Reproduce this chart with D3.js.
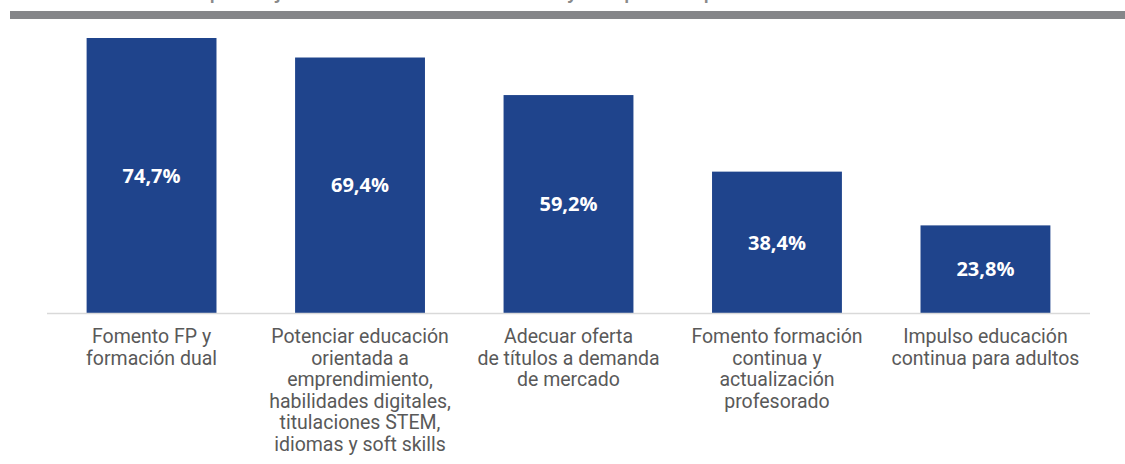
<!DOCTYPE html>
<html>
<head>
<meta charset="utf-8">
<script src="https://cdn.jsdelivr.net/npm/d3@7"></script>
<style>
	html, body { margin: 0; padding: 0; background: #fff; }
	svg { display: block; }
	.cat { font-family: Roboto, sans-serif; font-size: 19.5px; fill: #595959; }
	.val { font-family: "Open Sans", sans-serif; font-size: 20px; font-weight: 700; fill: #fff; }
</style>
</head>
<body>
<svg id="chart" width="1125" height="464"></svg>
<script>
const categories = [
	['Fomento FP y', 'formación dual'],
	['Potenciar educación', 'orientada a', 'emprendimiento,', 'habilidades digitales,', 'titulaciones STEM,', 'idiomas y soft skills'],
	['Adecuar oferta', 'de títulos a demanda', 'de mercado'],
	['Fomento formación', 'continua y', 'actualización', 'profesorado'],
	['Impulso educación', 'continua para adultos']
];
const values = [74.7, 69.4, 59.2, 38.4, 23.8];
const valueLabels = ['74,7%', '69,4%', '59,2%', '38,4%', '23,8%'];
const title = 'Medidas más relevantes para mejorar la conexión entre la formación y el empleo en España';

const svg = d3.select('#chart');

const left = 47, right = 1090, baseY = 313;

// title, mostly cut off at the top edge (as in the source image)
svg.append('text')
	.attr('x', 12)
	.attr('y', -1)
	.attr('font-family', 'Open Sans, sans-serif')
	.attr('font-size', 16)
	.attr('font-weight', 700)
	.attr('fill', '#8a8a8a')
	.text(title);

svg.append('rect')
	.attr('x', 10).attr('y', 11)
	.attr('width', 1115).attr('height', 8)
	.attr('fill', '#858689');

const x = d3.scaleBand()
	.domain(d3.range(values.length))
	.range([left, right])
	.paddingInner(0.377)
	.paddingOuter(0.19);

const y = d3.scaleLinear()
	.domain([0, 74.7])
	.range([baseY, 38]);

// bars
svg.append('g')
	.selectAll('rect')
	.data(values)
	.enter()
	.append('rect')
	.attr('x', (d, i) => x(i))
	.attr('y', d => y(d))
	.attr('width', x.bandwidth())
	.attr('height', d => baseY - y(d))
	.attr('fill', '#1f448c');

// axis line
svg.append('line')
	.attr('x1', left).attr('x2', right)
	.attr('y1', baseY + 0.5).attr('y2', baseY + 0.5)
	.attr('stroke', '#d9d9d9')
	.attr('stroke-width', 1.5);

// value labels
svg.append('g')
	.selectAll('text')
	.data(values)
	.enter()
	.append('text')
	.classed('val', true)
	.attr('x', (d, i) => x(i) + x.bandwidth() / 2)
	.attr('y', d => (y(d) + baseY) / 2)
	.attr('text-anchor', 'middle')
	.attr('dy', '0.36em')
	.text((d, i) => valueLabels[i]);

// category labels
const cats = svg.append('g')
	.selectAll('text')
	.data(categories)
	.enter()
	.append('text')
	.classed('cat', true)
	.attr('text-anchor', 'middle')
	.attr('x', (d, i) => x(i) + x.bandwidth() / 2)
	.attr('y', 343);

cats.selectAll('tspan')
	.data((d, i) => d.map(t => ({ t, i })))
	.enter()
	.append('tspan')
	.attr('x', d => x(d.i) + x.bandwidth() / 2)
	.attr('dy', (d, j) => j === 0 ? 0 : 21.6)
	.text(d => d.t);
</script>
</body>
</html>
